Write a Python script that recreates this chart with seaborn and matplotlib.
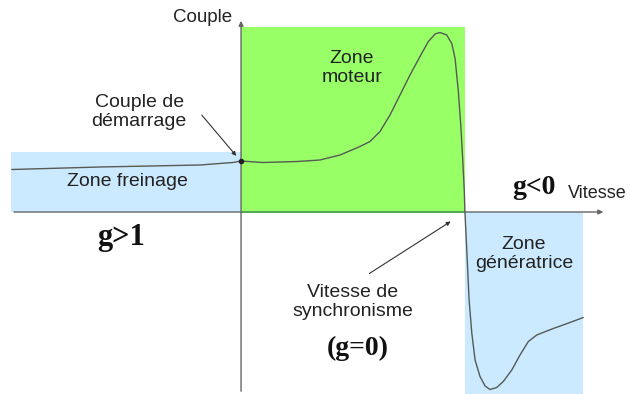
import numpy as np
import matplotlib
matplotlib.use("Agg")
import matplotlib.pyplot as plt
from matplotlib.patches import Rectangle
import seaborn as sns

# Courbe couple / vitesse d'une machine asynchrone
vitesse = [-1536, -945, -275, -54, 0, 147, 375, 529, 663, 797, 864, 931, 998,
           1065, 1132, 1199, 1255, 1300, 1333, 1378, 1412, 1434, 1456, 1472,
           1485, 1496, 1500, 1514, 1528, 1546, 1568, 1601, 1635, 1668, 1713,
           1757, 1814, 1869, 1925, 1981, 2092, 2204, 2293]
couple = [8.5, 9.0, 9.4, 9.9, 10.2, 9.9, 10.1, 10.4, 11.4, 13.1, 14.1, 16.1, 19.4,
          23.4, 27.4, 31.1, 34.1, 35.6, 35.9, 35.4, 33.7, 30.7, 24.1, 17.4,
          10.7, 4.1, 0.0, -8.6, -17.6, -24.2, -29.6, -32.9, -34.8, -35.5, -35.1,
          -33.9, -31.6, -28.6, -25.9, -24.6, -23.3, -22.1, -21.1]

# zones : (vitesse min, vitesse max, couple min, couple max)
zone_noms = ["freinage", "moteur", "generatrice"]
zone_x0 = [-1540, 0, 1500]
zone_x1 = [0, 1500, 2291]
zone_y0 = [0, 0, -37]
zone_y1 = [12, 37, 0]
zone_couleurs = ["#cceaff", "#99ff66", "#cceaff"]

sns.set_theme(style="white")
plt.rcParams['font.family'] = ['Liberation Sans', 'DejaVu Sans']

fig = plt.figure(figsize=(6.3, 3.94), dpi=100)
ax = fig.add_axes([0, 0, 1, 1])
ax.set_xlim(-1615, 2606)
ax.set_ylim(-36.4, 42.4)
ax.axis('off')

for x0, x1, y0, y1, c in zip(zone_x0, zone_x1, zone_y0, zone_y1, zone_couleurs):
    ax.add_patch(Rectangle((x0, y0), x1 - x0, y1 - y0, facecolor=c, edgecolor='none', zorder=1))

# axes
ax.annotate('', xy=(2446, 0), xytext=(-1540, 0),
            arrowprops=dict(arrowstyle='-|>', color='#666666', lw=1, mutation_scale=7), zorder=2)
ax.plot([0, 1500], [0, 0], color='#4caf50', lw=1.2, zorder=2)
ax.annotate('', xy=(0, 38.8), xytext=(0, -36.4),
            arrowprops=dict(arrowstyle='-|>', color='#666666', lw=1, mutation_scale=7), zorder=2)

sns.lineplot(x=vitesse, y=couple, ax=ax, color='#555a55', lw=1, sort=False, estimator=None, zorder=3)
ax.plot([0], [10.2], 'o', color='#222222', ms=3, zorder=4)

txt = dict(fontsize=14, color='#222222', ha='center', va='center', linespacing=1.2)
ax.text(-60, 38.8, "Couple", fontsize=13.5, color='#222222', ha='right', va='center')
ax.text(2191, 3.8, "Vitesse", fontsize=13, color='#222222', ha='left', va='center')
ax.text(-764, 6, "Zone freinage", **txt)
ax.text(744, 28.8, "Zone\nmoteur", **txt)
ax.text(1896, -8.4, "Zone\ngénératrice", **txt)
ax.text(-683, 20, "Couple de\ndémarrage", **txt)
ax.text(750, -18, "Vitesse de\nsynchronisme", **txt)

serif = dict(family=['Liberation Serif', 'DejaVu Serif'], fontweight='bold', color='#111111',
             ha='center', va='center')
ax.text(-804, -5, "g>1", fontsize=22, **serif)
ax.text(1963, 5, "g<0", fontsize=20, **serif)
ax.text(784, -27.2, "(g=0)", fontsize=20, **serif)

ax.annotate('', xy=(-20, 10.8), xytext=(-275, 19.8),
            arrowprops=dict(arrowstyle='-|>', color='#333333', lw=0.8, mutation_scale=6))
ax.annotate('', xy=(1420, -1.6), xytext=(844, -12.6),
            arrowprops=dict(arrowstyle='-|>', color='#333333', lw=0.8, mutation_scale=6))

fig.savefig("out.png", dpi=100)
